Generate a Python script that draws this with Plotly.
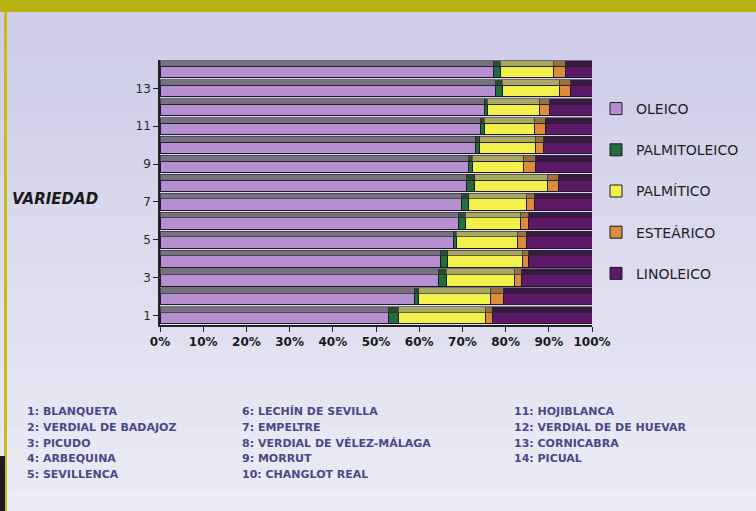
import plotly.graph_objects as go

# ---- data (percent composition of fatty acids per olive variety) ----
variedades = list(range(1, 15))
oleico       = [53.0, 58.8, 64.4, 64.9, 67.9, 69.2, 69.7, 71.0, 71.5, 73.0, 74.3, 75.0, 77.7, 77.1]
palmitoleico = [2.2, 1.1, 1.9, 1.7, 0.7, 1.5, 1.8, 1.9, 0.8, 1.0, 0.8, 0.7, 1.5, 1.7]
palmitico    = [20.1, 16.6, 15.7, 17.2, 14.1, 12.7, 13.3, 16.7, 11.9, 12.9, 11.6, 12.2, 13.3, 12.2]
estearico    = [1.6, 3.1, 1.7, 1.6, 2.1, 2.0, 1.9, 2.7, 2.7, 1.9, 2.5, 2.3, 2.6, 2.8]
linoleico    = [23.1, 20.4, 16.3, 14.6, 15.2, 14.6, 13.3, 7.7, 13.1, 11.2, 10.8, 9.8, 4.9, 6.2]

series_names = ["OLEICO", "PALMITOLEICO", "PALMÍTICO", "ESTEÁRICO", "LINOLEICO"]
series_vals = [oleico, palmitoleico, palmitico, estearico, linoleico]

y_tick_vals = [1, 3, 5, 7, 9, 11, 13]
x_tick_vals = [0, 10, 20, 30, 40, 50, 60, 70, 80, 90, 100]
x_tick_text = ["0%", "10%", "20%", "30%", "40%", "50%", "60%", "70%", "80%", "90%", "100%"]

nombres = ["1: BLANQUETA", "2: VERDIAL DE BADAJOZ", "3: PICUDO", "4: ARBEQUINA", "5: SEVILLENCA",
           "6: LECHÍN DE SEVILLA", "7: EMPELTRE", "8: VERDIAL DE VÉLEZ-MÁLAGA", "9: MORRUT", "10: CHANGLOT REAL",
           "11: HOJIBLANCA", "12: VERDIAL DE DE HUEVAR", "13: CORNICABRA", "14: PICUAL"]

# ---- styles ----
face_colors = ["#b58fd2", "#1f6e3c", "#f2f04a", "#dc8c3a", "#5e1868"]
top_colors  = ["#77717f", "#2c4a30", "#a9a860", "#9a7040", "#3b1744"]

W, H = 756, 511
L, R, T, B = 160, 164, 60, 186
PW, PH = W - L - R, H - T - B

def px(xp):
    return (xp - L) / PW

def py(yp):
    return (H - B - yp) / PH

fig = go.Figure()

# 3D-look top faces (drawn on an overlaying axis so they stack separately)
for name, vals, c in zip(series_names, series_vals, top_colors):
    fig.add_trace(go.Bar(
        x=vals, y=variedades, orientation="h", yaxis="y2",
        width=0.3, offset=0.16, marker=dict(color=c, line=dict(color="#2a2a30", width=0.6)),
        showlegend=False, hoverinfo="skip",
    ))

for i, (name, vals, c) in enumerate(zip(series_names, series_vals, face_colors)):
    fig.add_trace(go.Bar(
        x=vals, y=variedades, orientation="h", name=name,
        width=0.6, offset=-0.44,
        marker=dict(color=c, line=dict(color="#1e1a24", width=1)),
        legendgroup=name,
    ))

# background gradient (decoration)
shapes = []
n = 24
top_c = (206, 204, 232)
bot_c = (236, 236, 246)
for k in range(n):
    f = k / (n - 1)
    col = tuple(int(top_c[j] + (bot_c[j] - top_c[j]) * f) for j in range(3))
    shapes.append(dict(type="rect", xref="paper", yref="paper", layer="below",
                       x0=px(0), x1=px(W), y0=py(12 + (H - 12) * (k + 1) / n), y1=py(12 + (H - 12) * k / n),
                       fillcolor="rgb(%d,%d,%d)" % col, line=dict(width=0)))
# olive header and frame
shapes.append(dict(type="rect", xref="paper", yref="paper", x0=px(0), x1=px(W), y0=py(12), y1=py(0),
                   fillcolor="#b5b10e", line=dict(width=0), layer="below"))
shapes.append(dict(type="rect", xref="paper", yref="paper", x0=px(4), x1=px(7), y0=py(H), y1=py(12),
                   fillcolor="#c4c010", line=dict(width=0), layer="below"))
shapes.append(dict(type="rect", xref="paper", yref="paper", x0=px(0), x1=px(5), y0=py(H), y1=py(456),
                   fillcolor="#1e1a1c", line=dict(width=0), layer="below"))

annotations = [dict(text="<b><i>VARIEDAD</i></b>", xref="paper", yref="paper", x=px(10), y=py(199),
                    xanchor="left", yanchor="middle", showarrow=False,
                    font=dict(family="DejaVu Sans", size=15, color="#1a1a1a"))]

col_x = [25, 240, 512]
row_y = [411, 427, 443, 458, 474]
for idx, txt in enumerate(nombres):
    c, r = divmod(idx, 5)
    annotations.append(dict(text="<b>" + txt + "</b>", xref="paper", yref="paper",
                            x=px(col_x[c]), y=py(row_y[r]), xanchor="left", yanchor="middle",
                            showarrow=False,
                            font=dict(family="DejaVu Sans", size=11, color="#4a4888")))

fig.update_layout(
    width=W, height=H,
    margin=dict(l=L, r=R, t=T, b=B, autoexpand=False),
    barmode="stack",
    paper_bgcolor="#d6d4ec",
    plot_bgcolor="rgba(0,0,0,0)",
    shapes=shapes,
    annotations=annotations,
    showlegend=True,
    legend=dict(x=px(596), y=py(93), xanchor="left", yanchor="top",
                bgcolor="rgba(0,0,0,0)", tracegroupgap=20, traceorder="grouped",
                font=dict(family="DejaVu Sans", size=14, color="#1e1e1e"),
                itemwidth=30),
    xaxis=dict(range=[0, 100], tickvals=x_tick_vals, ticktext=x_tick_text, automargin=False,
               showgrid=False, zeroline=False, showline=True, linecolor="#222", linewidth=1.5,
               ticks="outside", ticklen=5, tickcolor="#222",
               tickfont=dict(family="DejaVu Sans", size=12, color="#1a1a1a", weight="bold")),
    yaxis=dict(range=[0.5, 14.5], tickvals=y_tick_vals, showgrid=False, zeroline=False, automargin=False,
               showline=True, linecolor="#222", linewidth=1.5, ticks="outside", ticklen=5,
               tickcolor="#222",
               tickfont=dict(family="DejaVu Sans", size=12, color="#2a2a2a")),
    yaxis2=dict(range=[0.5, 14.5], overlaying="y", visible=False),
)

fig.write_html("out.html", config={"displayModeBar": False},
               post_script="document.body.style.margin='0';")
